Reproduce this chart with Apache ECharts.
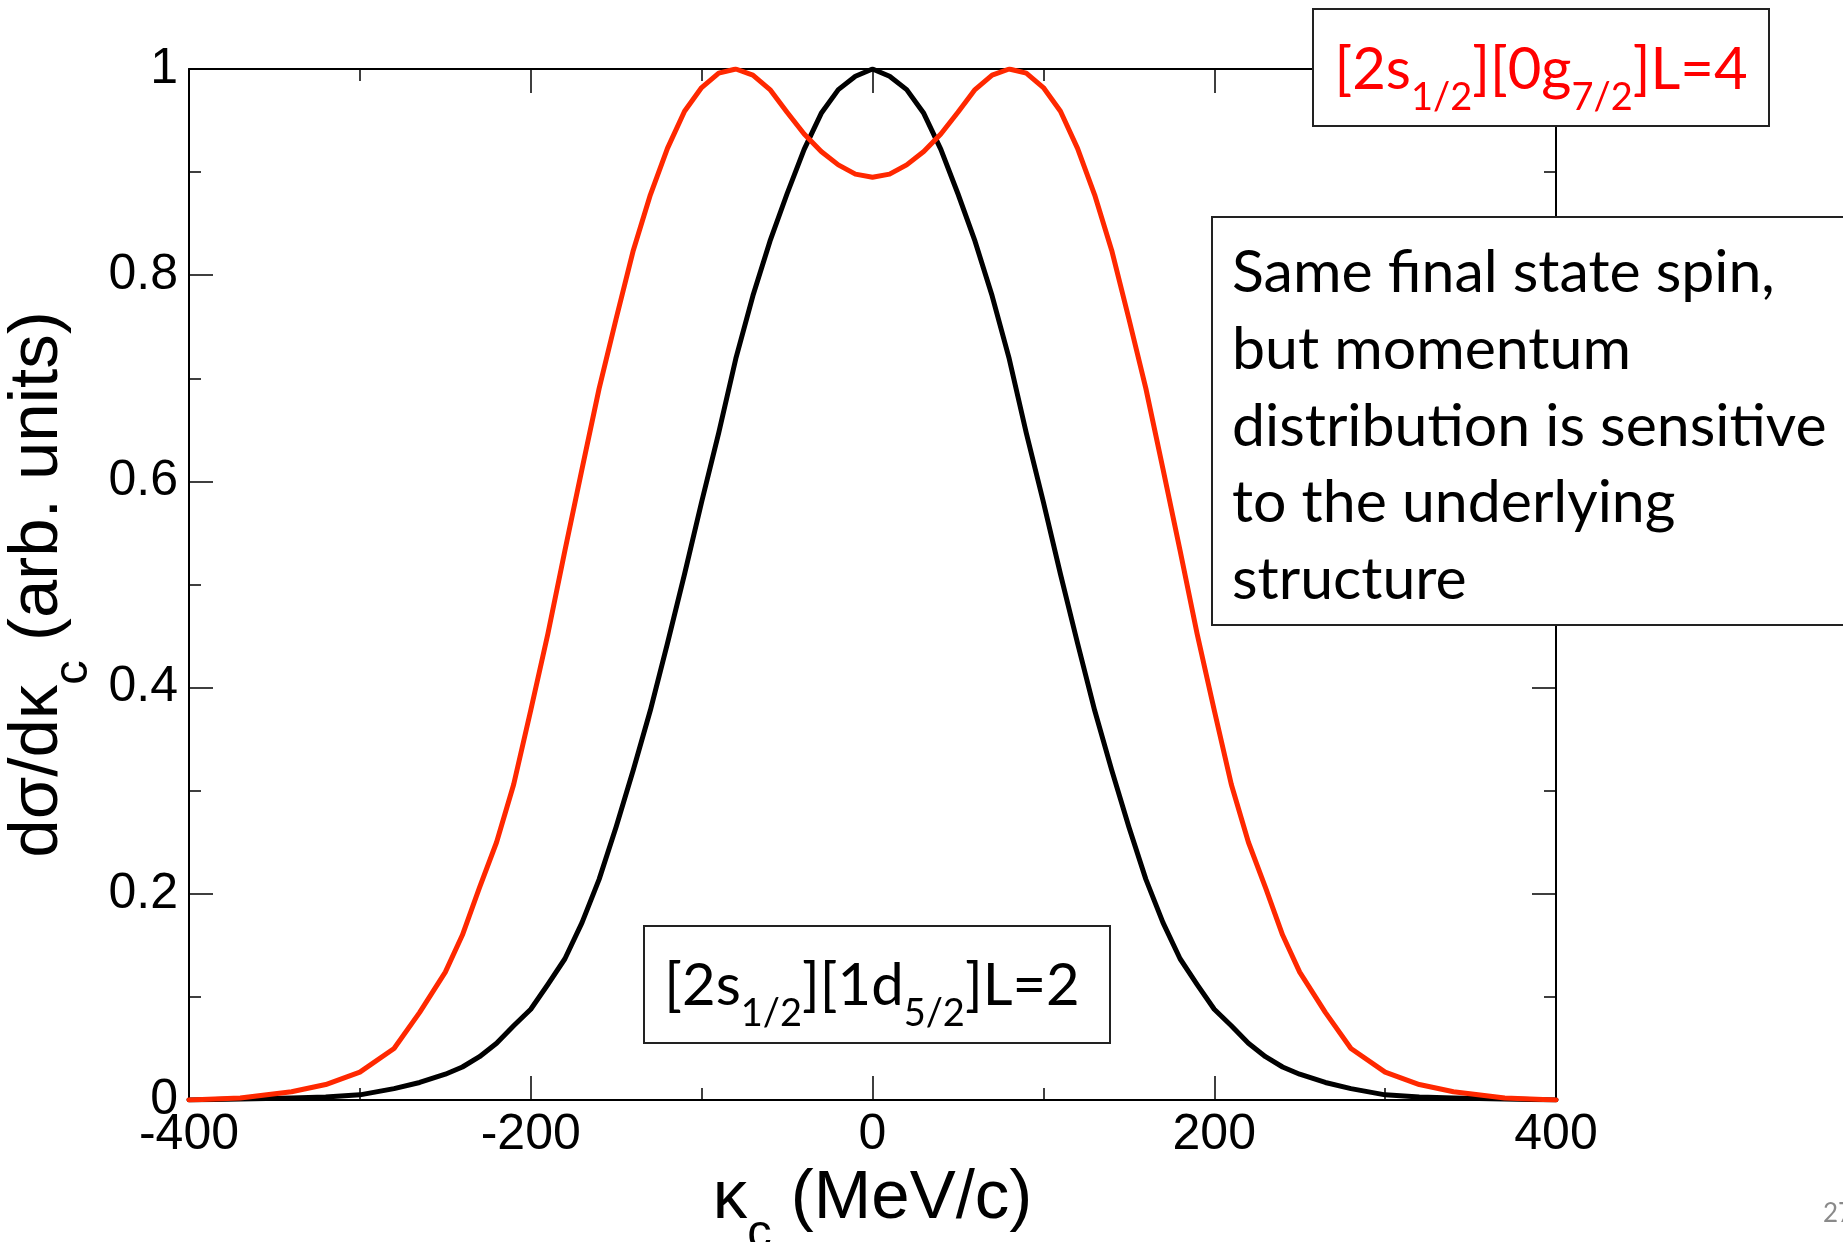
<!DOCTYPE html>
<html>
<head>
<meta charset="utf-8">
<title>Momentum distributions</title>
<script src="https://cdn.jsdelivr.net/npm/echarts@6/dist/echarts.min.js"></script>
<style>
  html, body { margin: 0; padding: 0; background: #ffffff; }
  #chart { width: 1843px; height: 1242px; }
</style>
</head>
<body>
<div id="chart"></div>
<script>
// Core momentum kappa_c (MeV/c)
const kappa = [
  -400, -370, -340, -320, -300, -280, -265, -250, -240, -230, -220, -210, -200,
  -190, -180, -170, -160, -150, -140, -130, -120, -110, -100, -90, -80, -70,
  -60, -50, -40, -30, -20, -10, 0,
  10, 20, 30, 40, 50, 60, 70, 80, 90, 100, 110, 120, 130, 140, 150, 160, 170,
  180, 190, 200, 210, 220, 230, 240, 250, 265, 280, 300, 320, 340, 370, 400
];

// [2s1/2][1d5/2] L=2 distribution (black)
const distL2 = [
  0.000, 0.001, 0.002, 0.003, 0.005, 0.011, 0.017, 0.025, 0.032, 0.042, 0.055, 0.072, 0.088,
  0.112, 0.137, 0.172, 0.214, 0.265, 0.320, 0.378, 0.443, 0.510, 0.580, 0.647, 0.719, 0.780,
  0.833, 0.879, 0.922, 0.957, 0.980, 0.993, 1.000,
  0.993, 0.980, 0.957, 0.922, 0.879, 0.833, 0.780, 0.719, 0.647, 0.580, 0.510, 0.443, 0.378,
  0.320, 0.265, 0.214, 0.172, 0.137, 0.112, 0.088, 0.072, 0.055, 0.042, 0.032, 0.025, 0.017,
  0.011, 0.005, 0.003, 0.002, 0.001, 0.000
];

// [2s1/2][0g7/2] L=4 distribution (red)
const distL4 = [
  0.000, 0.002, 0.008, 0.015, 0.027, 0.050, 0.085, 0.124, 0.160, 0.206, 0.250, 0.306, 0.378,
  0.452, 0.533, 0.612, 0.690, 0.758, 0.824, 0.878, 0.923, 0.959, 0.982, 0.996, 1.000, 0.994,
  0.980, 0.958, 0.937, 0.920, 0.907, 0.898, 0.895,
  0.898, 0.907, 0.920, 0.937, 0.958, 0.980, 0.994, 1.000, 0.996, 0.982, 0.959, 0.923, 0.878,
  0.824, 0.758, 0.690, 0.612, 0.533, 0.452, 0.378, 0.306, 0.250, 0.206, 0.160, 0.124, 0.085,
  0.050, 0.027, 0.015, 0.008, 0.002, 0.000
];

// Axis ticks
const xTicks = [-400, -200, 0, 200, 400];
const yTicks = [0, 0.2, 0.4, 0.6, 0.8, 1];

const AXIS_FONT = '"Liberation Sans", Arial, sans-serif';
const NOTE_FONT = 'Lato, "Open Sans", sans-serif';

const axisLine = { show: true, onZero: false, lineStyle: { color: '#000', width: 2 } };
const axisTick = { show: true, inside: true, length: 24, lineStyle: { color: '#000', width: 1.5 } };
const minorTick = { show: true, splitNumber: 2, length: 12, lineStyle: { color: '#000', width: 1.5 } };

// rich styles for axis titles with subscript c
const titleRich = {
  n: { fontFamily: AXIS_FONT, fontSize: 69, lineHeight: 80, color: '#000', verticalAlign: 'top' },
  s: { fontFamily: AXIS_FONT, fontSize: 49, lineHeight: 49, color: '#000', verticalAlign: 'top', padding: [45, 0, 0, 0] }
};

// rich styles for orbital labels with fractional subscripts
function orbitalRich(color) {
  return {
    m: { fontFamily: NOTE_FONT, fontSize: 58, lineHeight: 70, fill: color, verticalAlign: 'top' },
    s: { fontFamily: NOTE_FONT, fontSize: 38, lineHeight: 38, fill: color, verticalAlign: 'top', padding: [38, 0, 0, 0] }
  };
}

const xMin = xTicks[0], xMax = xTicks[xTicks.length - 1];
const yMin = yTicks[0], yMax = yTicks[yTicks.length - 1];

const chart = echarts.init(document.getElementById('chart'), null, { renderer: 'canvas' });

chart.setOption({
  animation: false,
  backgroundColor: '#ffffff',
  grid: { left: 189, right: 287, top: 69, bottom: 142, outerBoundsMode: 'none' },
  xAxis: [
    {
      type: 'value', position: 'bottom',
      min: xMin, max: xMax, interval: xTicks[1] - xTicks[0],
      axisLine, axisTick, minorTick,
      splitLine: { show: false }, minorSplitLine: { show: false },
      axisLabel: { fontFamily: AXIS_FONT, fontSize: 50, color: '#000', margin: 10,
                   formatter: v => String(v) },
      name: '{n|κ}{s|c}{n| (MeV/c)}',
      nameLocation: 'middle', nameGap: 53,
      nameTextStyle: { rich: titleRich }
    },
    {
      type: 'value', position: 'top',
      min: xMin, max: xMax, interval: xTicks[1] - xTicks[0],
      axisLine, axisTick, minorTick,
      splitLine: { show: false }, axisLabel: { show: false }
    }
  ],
  yAxis: [
    {
      type: 'value', position: 'left',
      min: yMin, max: yMax, interval: yTicks[1] - yTicks[0],
      axisLine, axisTick, minorTick,
      splitLine: { show: false }, minorSplitLine: { show: false },
      axisLabel: { fontFamily: AXIS_FONT, fontSize: 50, color: '#000', margin: 11,
                   formatter: v => String(Math.round(v * 10) / 10) },
      name: '{n|dσ/dκ}{s|c}{n| (arb. units)}',
      nameLocation: 'middle', nameGap: 90, nameRotate: 90,
      nameTextStyle: { rich: titleRich }
    },
    {
      type: 'value', position: 'right',
      min: yMin, max: yMax, interval: yTicks[1] - yTicks[0],
      axisLine, axisTick, minorTick,
      splitLine: { show: false }, axisLabel: { show: false }
    }
  ],
  series: [
    {
      name: 'L=2', type: 'line', xAxisIndex: 0, yAxisIndex: 0,
      data: kappa.map((k, i) => [k, distL2[i]]),
      showSymbol: false, smooth: false,
      lineStyle: { color: '#000000', width: 5, join: 'round', cap: 'round' }
    },
    {
      name: 'L=4', type: 'line', xAxisIndex: 0, yAxisIndex: 0,
      data: kappa.map((k, i) => [k, distL4[i]]),
      showSymbol: false, smooth: false,
      lineStyle: { color: '#ff2800', width: 5, join: 'round', cap: 'round' }
    }
  ],
  graphic: [
    // L=4 label box
    { type: 'rect', z: 100, shape: { x: 1313, y: 9, width: 456, height: 117 },
      style: { fill: '#ffffff', stroke: '#222222', lineWidth: 2 } },
    { type: 'text', z: 101, x: 1541, y: 41,
      style: { text: '{m|[2s}{s|1/2}{m|][0g}{s|7/2}{m|]L=4}', rich: orbitalRich('#ff0000'),
               align: 'center', verticalAlign: 'top' } },
    // explanatory note
    { type: 'rect', z: 100, shape: { x: 1212, y: 217, width: 660, height: 408 },
      style: { fill: '#ffffff', stroke: '#222222', lineWidth: 2 } },
    { type: 'text', z: 101, x: 1232, y: 235,
      style: { text: 'Same final state spin,\nbut momentum\ndistribution is sensitive\nto the underlying\nstructure',
               fontFamily: NOTE_FONT, fontSize: 59, lineHeight: 76.7, fill: '#000000',
               align: 'left', verticalAlign: 'top' } },
    // L=2 label box
    { type: 'rect', z: 100, shape: { x: 644, y: 926, width: 466, height: 117 },
      style: { fill: '#ffffff', stroke: '#222222', lineWidth: 2 } },
    { type: 'text', z: 101, x: 872, y: 957,
      style: { text: '{m|[2s}{s|1/2}{m|][1d}{s|5/2}{m|]L=2}', rich: orbitalRich('#000000'),
               align: 'center', verticalAlign: 'top' } },
    // slide number
    { type: 'text', z: 101, x: 1823, y: 1201,
      style: { text: '27', fontFamily: NOTE_FONT, fontSize: 26, fill: '#8a8a8a',
               align: 'left', verticalAlign: 'top' } }
  ]
});
</script>
</body>
</html>
